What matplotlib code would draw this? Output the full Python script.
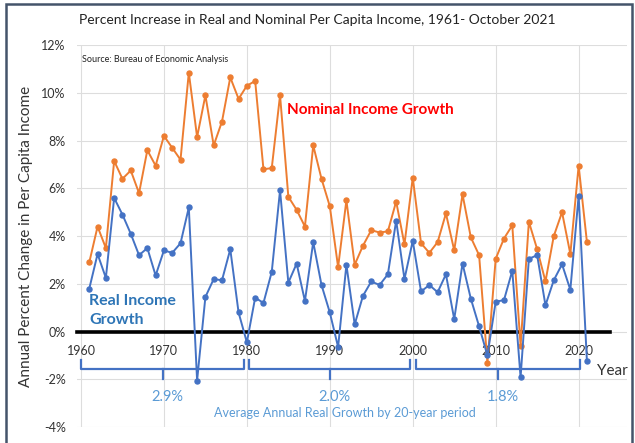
import numpy as np
import matplotlib
matplotlib.use("Agg")
import matplotlib.pyplot as plt
from matplotlib.patches import Rectangle

plt.rcParams['font.family'] = ['Lato', 'DejaVu Sans']

years = np.arange(1961, 2022)
nominal = [2.9, 4.4, 3.5, 7.15, 6.4, 6.75, 5.8, 7.6, 6.95, 8.2,
           7.7, 7.2, 10.85, 8.15, 9.9, 7.8, 8.8, 10.65, 9.75, 10.3,
           10.5, 6.8, 6.85, 9.9, 5.65, 5.1, 4.4, 7.8, 6.4, 5.25,
           2.7, 5.5, 2.8, 3.6, 4.25, 4.15, 4.2, 5.45, 3.65, 6.45,
           3.7, 3.3, 3.75, 4.95, 3.4, 5.75, 3.95, 3.2, -1.3, 3.05,
           3.9, 4.45, -0.6, 4.6, 3.45, 2.1, 4.0, 5.0, 3.25, 6.95, 3.75]
real = [1.8, 3.25, 2.25, 5.6, 4.9, 4.1, 3.2, 3.5, 2.35, 3.4,
        3.3, 3.7, 5.2, -2.05, 1.45, 2.2, 2.15, 3.45, 0.8, -0.45,
        1.42, 1.2, 2.5, 5.92, 2.05, 2.85, 1.28, 3.75, 1.95, 0.8,
        -0.65, 2.8, 0.3, 1.5, 2.1, 1.95, 2.4, 4.65, 2.2, 3.8,
        1.68, 1.95, 1.65, 2.4, 0.52, 2.85, 1.38, 0.22, -1.0, 1.25,
        1.32, 2.55, -1.92, 3.05, 3.2, 1.1, 2.15, 2.82, 1.75, 5.7, -1.25]

periods = [(1960, 1979.7), (1980.3, 1999.7), (2000.4, 2020.2)]
period_avg = ['2.9%', '2.0%', '1.8%']

blue = '#4472C4'
orange = '#ED7D31'
text_blue = '#5B9BD5'

fig = plt.figure(figsize=(6.35, 4.43), dpi=100)
ax = fig.add_axes([0.121, 0.036, 0.866, 0.862])

ax.plot(years, nominal, color=orange, lw=1.4, marker='o', ms=3.6, zorder=3)
ax.plot(years, real, color=blue, lw=1.4, marker='o', ms=3.6, zorder=3)

ax.set_xlim(1959.5, 2025.8)
ax.set_ylim(-4, 12)
ax.set_yticks(np.arange(-4, 13, 2))
ax.set_yticklabels([f'{v}%' for v in range(-4, 13, 2)], fontsize=9, color='#333333')
ax.set_xticks(np.arange(1960, 2021, 10))
ax.grid(True, color='#dddddd', lw=0.8)
ax.set_axisbelow(True)
for s in ['top', 'right', 'left']:
    ax.spines[s].set_visible(False)
ax.spines['bottom'].set_position(('data', 0))
ax.spines['bottom'].set_linewidth(2.6)
ax.spines['bottom'].set_color('black')
ax.spines['bottom'].set_bounds(1959.5, 2023.8)
ax.spines['bottom'].set_zorder(2)
ax.tick_params(axis='both', length=0)
ax.tick_params(axis='x', labelsize=9, labelcolor='#333333', pad=10)
ax.tick_params(axis='y', pad=8)

ax.set_ylabel('Annual Percent Change in Per Capita Income', fontsize=11, color='#333333', labelpad=6)
ax.text(2022.2, -1.8, 'Year', fontsize=11, color='#333333')

ax.text(0.01, 0.975, 'Source: Bureau of Economic Analysis', transform=ax.transAxes,
        fontsize=6.5, va='top', color='#222222')
ax.text(1984.8, 9.1, 'Nominal Income Growth', fontsize=11, color='#FF0000', fontweight='bold')
ax.text(1961, 1.1, 'Real Income', fontsize=11.5, color='#2E75B6', fontweight='bold')
ax.text(1961, 0.3, 'Growth', fontsize=11.5, color='#2E75B6', fontweight='bold')

# period braces
yb = -1.55
for (a, b), lab in zip(periods, period_avg):
    ax.plot([a, a, b, b], [yb + 0.35, yb, yb, yb + 0.35], color=blue, lw=1.6, zorder=2)
    m = (a + b) / 2
    ax.plot([m, m], [yb, yb - 0.45], color=blue, lw=1.6, zorder=2)
    ax.text(m + 0.6, yb - 0.9, lab, fontsize=10.5, color=text_blue, ha='center', va='top')
ax.text(1991.8, -3.15, 'Average Annual Real Growth by 20-year period', fontsize=9,
        color=text_blue, ha='center', va='top')

fig.text(0.5, 0.955, 'Percent Increase in Real and Nominal Per Capita Income, 1961- October 2021',
         ha='center', va='center', fontsize=10, color='#222222')

fig.patches.append(Rectangle((0.009, -0.02), 0.986, 1.01, transform=fig.transFigure,
                             fill=False, edgecolor='#44546A', lw=1.8))

fig.savefig('out.png', dpi=100)
